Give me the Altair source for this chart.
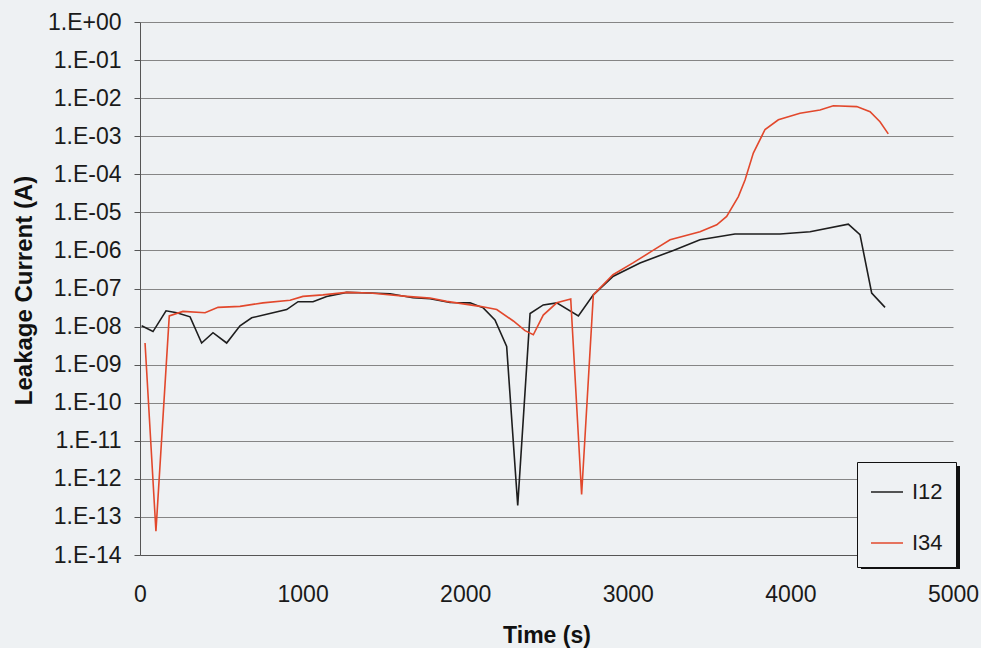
import altair as alt
import pandas as pd

# Time (s) and leakage current (A) for each terminal pair
t12 = [10, 80, 160, 226, 308, 379, 449, 533, 615, 687, 779, 902, 972, 1064,
       1148, 1271, 1415, 1538, 1679, 1784, 1907, 2030, 2111, 2183, 2255, 2323,
       2399, 2480, 2563, 2696, 2788, 2911, 3075, 3280, 3444, 3659, 3936, 4121,
       4356, 4428, 4500, 4582]
i12 = [1.05e-8, 7.4e-9, 2.6e-8, 2.3e-8, 1.8e-8, 3.7e-9, 6.9e-9, 3.7e-9, 1.05e-8,
       1.7e-8, 2.1e-8, 2.8e-8, 4.5e-8, 4.5e-8, 6.2e-8, 7.9e-8, 7.6e-8, 7.3e-8,
       5.7e-8, 5.4e-8, 4.3e-8, 4.2e-8, 3.1e-8, 1.5e-8, 3.0e-9, 2.0e-13, 2.2e-8,
       3.7e-8, 4.2e-8, 1.9e-8, 6.8e-8, 2.1e-7, 4.7e-7, 1.0e-6, 1.9e-6, 2.7e-6,
       2.7e-6, 3.1e-6, 4.9e-6, 2.6e-6, 7.6e-8, 3.2e-8]

t34 = [31, 98, 180, 264, 400, 480, 615, 756, 923, 1002, 1125, 1271, 1415, 1640,
       1784, 1886, 2091, 2194, 2296, 2368, 2419, 2480, 2563, 2649, 2716, 2788,
       2909, 3032, 3155, 3260, 3444, 3547, 3608, 3680, 3721, 3772, 3844, 3926,
       4059, 4182, 4264, 4408, 4490, 4551, 4602]
i34 = [3.7e-9, 4.2e-14, 1.9e-8, 2.5e-8, 2.3e-8, 3.2e-8, 3.4e-8, 4.2e-8, 4.9e-8,
       6.2e-8, 6.8e-8, 7.9e-8, 7.6e-8, 6.2e-8, 5.6e-8, 4.6e-8, 3.4e-8, 2.8e-8,
       1.4e-8, 7.8e-9, 6.1e-9, 2.0e-8, 4.2e-8, 5.3e-8, 3.9e-13, 6.8e-8, 2.3e-7,
       4.7e-7, 1.0e-6, 1.9e-6, 3.1e-6, 4.7e-6, 7.8e-6, 2.6e-5, 7.1e-5, 3.6e-4,
       1.5e-3, 2.7e-3, 4.0e-3, 4.9e-3, 6.3e-3, 6.0e-3, 4.4e-3, 2.4e-3, 1.15e-3]

series = ["I12", "I34"]
colors = ["#1e1e1e", "#e2482c"]
decades = [10.0 ** e for e in range(-14, 1)]
x_ticks = [0, 1000, 2000, 3000, 4000, 5000]

df = pd.concat([
    pd.DataFrame({"time": t12, "current": i12, "series": "I12", "order": range(len(t12))}),
    pd.DataFrame({"time": t34, "current": i34, "series": "I34", "order": range(len(t34))}),
])

FONT = "Liberation Sans"
W, H = 813, 533

exp_expr = "round(log(datum.value)/LN10)"
label_expr = ("'1.E' + (" + exp_expr + " >= 0 ? '+' : '-') + (abs(" + exp_expr +
              ") < 10 ? '0' : '') + abs(" + exp_expr + ")")

lines = alt.Chart(df).mark_line(strokeWidth=1.6, clip=True).encode(
    x=alt.X("time:Q",
            scale=alt.Scale(domain=[0, 5000], nice=False),
            axis=alt.Axis(values=x_ticks, title="Time (s)", grid=False, ticks=False,
                          labelFlush=False, labelPadding=28, titlePadding=18,
                          titleFontSize=23, format="d")),
    y=alt.Y("current:Q",
            scale=alt.Scale(type="log", domain=[1e-14, 1], nice=False),
            axis=alt.Axis(values=decades, labelExpr=label_expr,
                          title="Leakage Current (A)", grid=True, tickSize=6,
                          labelPadding=13, titleFontSize=24,
                          titleX=-116, titleY=268, titleBaseline="middle")),
    color=alt.Color("series:N",
                    scale=alt.Scale(domain=series, range=colors),
                    legend=alt.Legend(title=None, orient="none", legendX=717, legendY=440,
                                      symbolType="stroke", symbolSize=1024,
                                      symbolStrokeWidth=1.5, rowPadding=23,
                                      padding=13, labelOffset=8)),
    order="order:Q",
)

# drop shadow behind the legend box
shadow = alt.Chart(pd.DataFrame({"k": [0]})).mark_rect(color="#111111").encode(
    x=alt.value(721), x2=alt.value(820), y=alt.value(444), y2=alt.value(547)
)

chart = alt.layer(shadow, lines).properties(
    width=W, height=H,
    autosize=alt.AutoSizeParams(type="none"),
    padding={"left": 140, "top": 22, "right": 28, "bottom": 93},
    background="#eef1f3",
).configure_view(stroke=None).configure_axis(
    labelFont=FONT, titleFont=FONT, labelFontSize=23,
    labelColor="#1a1a1a", titleColor="#111111", titleFontWeight="bold",
    domainColor="#555555", tickColor="#555555", gridColor="#858585", gridWidth=1,
).configure_legend(
    labelFont=FONT, labelFontSize=22, labelColor="#1a1a1a",
    strokeColor="#111111", fillColor="#eef1f3",
)

chart.save("out.html", embed_options={"renderer": "svg", "actions": False})
